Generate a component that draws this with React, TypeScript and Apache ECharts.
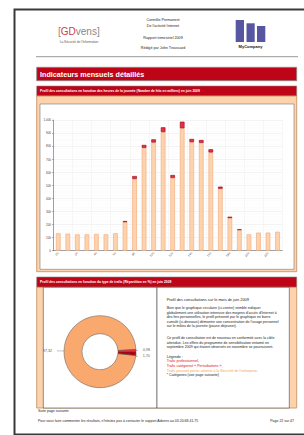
import React, { useEffect, useRef } from "react";
import * as echarts from "echarts";

const hours = ["0h", "1h", "2h", "3h", "4h", "5h", "6h", "7h", "8h", "9h", "10h", "11h", "12h", "13h", "14h", "15h", "16h", "17h", "18h", "19h", "20h", "21h", "22h", "23h"];
const proHits = [133, 130, 125, 125, 128, 125, 133, 219, 549, 787, 828, 908, 557, 937, 831, 825, 752, 474, 250, 158, 125, 138, 138, 145];
const perturbHits = [0, 0, 0, 0, 0, 0, 0, 8, 22, 22, 24, 36, 22, 50, 24, 22, 24, 16, 10, 6, 0, 0, 0, 0];
const yTicks = { min: 0, max: 1000, interval: 100 };

const pieNames = ["Trafic professionnel", "Trafic pouvant porter atteinte à la Sécurité", "Trafic catégorisé « Perturbations »"];
const pieValues = [97.32, 0.98, 1.70];
const pieLabels = ["97,32", "0,98", "1,70"];

const para1 = [
  "Bien que le graphique circulaire (ci-contre) semble indiquer",
  "globalement une utilisation intensive des moyens d'accès d'Internet à",
  "des fins personnelles, le profil présenté par le graphique en barre",
  "cumulé (ci-dessous) démontre une concentration de l'usage personnel",
  "sur le milieu de la journée (pause déjeuner).",
];
const para2 = [
  "Ce profil de consultation est de nouveau en conformité avec la cible",
  "attendue. Les effets du programme de sensibilisation entamé en",
  "septembre 2009 qui étaient observés en novembre se poursuivent.",
];

const FONT = "Liberation Sans, Arial, sans-serif";
const RED = "#c00418";
const PEACH = "#fcd3ad";

function txt(x: number, y: number, text: string, o: any = {}) {
  return {
    type: "text",
    x,
    y,
    z: 100,
    silent: true,
    style: {
      text,
      fontFamily: FONT,
      fontSize: o.fontSize ?? 3.6,
      fontWeight: o.fontWeight ?? "normal",
      fill: o.fill ?? "#222",
      align: o.align ?? "left",
      verticalAlign: "middle",
    },
  };
}
function box(x: number, y: number, w: number, h: number, fill: string, stroke?: string, lw = 0.6) {
  return {
    type: "rect",
    z: -10,
    silent: true,
    shape: { x, y, width: w, height: h },
    style: { fill, stroke: stroke ?? "none", lineWidth: stroke ? lw : 0 },
  };
}

export default function App() {
  const ref = useRef<HTMLDivElement>(null);
  useEffect(() => {
    document.body.style.margin = "0";
    const chart = echarts.init(ref.current!, null, { renderer: "svg" });
    const graphics: any[] = [
      box(0, 0, 304, 435, "#ffffff"),
      // page frame
      box(14.5, 9.5, 300, 425, "#ffffff", "#3a3a3a", 2),
      // header rule
      { type: "line", z: -5, silent: true, shape: { x1: 36, y1: 56.7, x2: 298, y2: 56.7 }, style: { stroke: "#999", lineWidth: 1 } },
      // MyCompany logo bars
      box(235.7, 20, 8.3, 22, "#5856a0"),
      box(246.5, 23.3, 8.2, 18.7, "#5856a0"),
      box(257, 26, 8.3, 16, "#5856a0"),
      txt(250.5, 46.5, "MyCompany", { fontSize: 4, fontWeight: "bold", align: "center", fill: "#111" }),
      // GFDvens logo
      {
        type: "text",
        x: 58,
        y: 31.5,
        z: 100,
        silent: true,
        style: {
          text: "{g|[}{r|G}{r|D}{g|vens}{g|]}",
          verticalAlign: "middle",
          rich: {
            g: { fontFamily: FONT, fontSize: 10, fill: "#888" },
            r: { fontFamily: FONT, fontSize: 10, fill: "#d04040" },
          },
        },
      },
      txt(79, 42, "La Sécurité de l'Information", { fontSize: 3.2, align: "center", fill: "#555" }),
      txt(163, 20, "Contrôle Permanent", { align: "center", fontSize: 3.7 }),
      txt(163, 25.7, "De l'activité Internet", { align: "center", fontSize: 3.7 }),
      txt(163, 37.7, "Rapport trimestriel 2009", { align: "center", fontSize: 3.7 }),
      txt(163, 47.7, "Rédigé par John Troussard", { align: "center", fontSize: 3.7 }),
      // main red title
      box(36.7, 67.3, 260, 13.4, RED, "#888", 0.8),
      txt(40, 74, "Indicateurs mensuels détaillés", { fontSize: 7.2, fontWeight: "bold", fill: "#fff" }),
      // section 1
      box(36.7, 86, 260, 10, RED, "#888", 0.6),
      txt(40, 91, "Profil des consultations en fonction des heures de la journée (Nombre de hits en milliers) en juin 2009", { fontSize: 3.3, fontWeight: "bold", fill: "#fff" }),
      box(36.7, 96, 260, 175.7, PEACH, "#c48c5c", 0.8),
      box(40, 104, 254, 165.3, "#ffffff", "#777", 0.6),
      // section 2
      box(36.7, 277, 260, 10.3, RED, "#888", 0.6),
      txt(40, 282.2, "Profil des consultations en fonction du type de trafic (Répartition en %) en juin 2009", { fontSize: 3.3, fontWeight: "bold", fill: "#fff" }),
      box(36.7, 287.3, 260, 120.7, PEACH, "#c48c5c", 0.8),
      box(43.3, 287.3, 113.7, 120.7, "#ffffff", "#444", 0.6),
      box(157, 287.3, 132.3, 120.7, "#ffffff", "#444", 0.6),
      txt(166.7, 299.3, "Profil des consultations sur le mois de juin 2009", { fontSize: 3.9 }),
      ...para1.map((l, i) => txt(166.7, 308 + i * 4.6, l)),
      ...para2.map((l, i) => txt(166.7, 338 + i * 4.6, l)),
      txt(166.7, 356.7, "Légende :"),
      txt(166.7, 361.3, "Trafic professionnel,", { fill: "#e01010" }),
      txt(166.7, 366, "Trafic catégorisé « Perturbations »,", { fill: "#e01010" }),
      txt(166.7, 370.7, "Trafic pouvant porter atteinte à la Sécurité de l'entreprise,", { fill: "#f5a050" }),
      txt(166.7, 375.4, "* Catégories (voir page suivante)"),
      // footer
      txt(38, 411, "Suite page suivante", { fontSize: 3.5 }),
      txt(38, 420.7, "Pour vous faire commenter les résultats, n'hésitez pas à contacter le support Advens au 03.20.68.41.75", { fontSize: 3.5 }),
      txt(294, 420.7, "Page 22 sur 47", { fontSize: 3.5, align: "right" }),
    ];

    chart.setOption({
      animation: false,
      graphic: { elements: graphics },
      grid: { left: 53.5, right: 21.7, top: 120, bottom: 184.3, containLabel: false },
      xAxis: {
        type: "category",
        data: hours,
        axisLine: { lineStyle: { color: "#666", width: 0.6 } },
        axisTick: { lineStyle: { color: "#666", width: 0.5 }, length: 1.5 },
        axisLabel: { fontSize: 3, rotate: 45, margin: 2, color: "#444", fontFamily: FONT },
        splitLine: { show: true, lineStyle: { color: "#eeeeee", width: 0.5 } },
      },
      yAxis: {
        type: "value",
        min: yTicks.min,
        max: yTicks.max,
        interval: yTicks.interval,
        axisLine: { show: true, lineStyle: { color: "#666", width: 0.6 } },
        axisTick: { show: true, length: 1.5, lineStyle: { color: "#666", width: 0.5 } },
        axisLabel: { fontSize: 3, margin: 2.5, color: "#444", fontFamily: FONT },
        splitLine: { show: true, lineStyle: { color: "#e6e6e6", width: 0.5 } },
        minorTick: { show: false },
        minorSplitLine: { show: true, lineStyle: { color: "#f3f3f3", width: 0.4 } },
      },
      series: [
        {
          type: "bar",
          stack: "h",
          data: proHits,
          barWidth: 4.6,
          itemStyle: { color: PEACH, borderColor: "#f2a878", borderWidth: 0.6 },
        },
        {
          type: "bar",
          stack: "h",
          data: perturbHits.map((v) => (v > 0 ? v : "-")),
          barWidth: 4.6,
          itemStyle: { color: "#e0304a", borderColor: "#a00010", borderWidth: 0.6 },
        },
        {
          type: "pie",
          center: [100, 351.7],
          radius: [18, 36],
          startAngle: -6,
          clockwise: true,
          avoidLabelOverlap: true,
          data: pieNames.map((n, i) => ({ name: n, value: pieValues[i] })),
          itemStyle: { borderColor: "#555", borderWidth: 0.5 },
          color: ["#f9a96e", "#e83040", "#b00010"],
          label: {
            show: true,
            position: "outside",
            fontSize: 3.6,
            color: "#555",
            fontFamily: FONT,
            formatter: (p: any) => pieLabels[p.dataIndex],
          },
          labelLine: { show: true, length: 3, length2: 4, lineStyle: { color: "#666", width: 0.4 } },
        },
      ],
    });
    return () => chart.dispose();
  }, []);
  return <div ref={ref} style={{ position: "absolute", left: 0, top: 0, width: 304, height: 435 }} />;
}
